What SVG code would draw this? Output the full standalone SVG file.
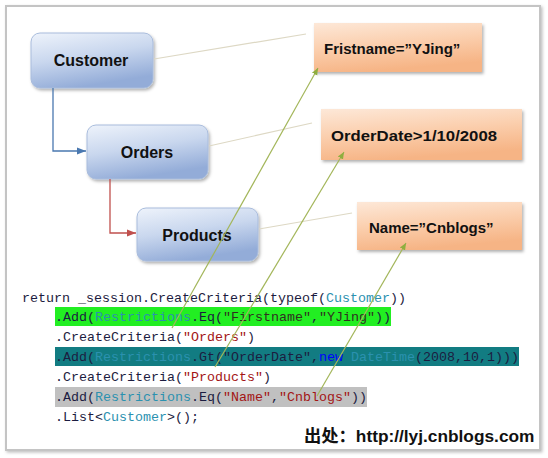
<svg xmlns="http://www.w3.org/2000/svg" width="548" height="458" viewBox="0 0 548 458">
<defs>
  <linearGradient id="gBlue" x1="0" y1="0" x2="0.35" y2="1">
    <stop offset="0" stop-color="#eef3fb"/>
    <stop offset="0.5" stop-color="#c9d7ee"/>
    <stop offset="1" stop-color="#93acd8"/>
  </linearGradient>
  <linearGradient id="gOrange" x1="0" y1="0" x2="0.3" y2="1">
    <stop offset="0" stop-color="#fde8d8"/>
    <stop offset="0.5" stop-color="#fbcfae"/>
    <stop offset="1" stop-color="#f6b485"/>
  </linearGradient>
  <filter id="sh" x="-10%" y="-10%" width="125%" height="135%">
    <feDropShadow dx="1.5" dy="2" stdDeviation="1.5" flood-color="#000" flood-opacity="0.3"/>
  </filter>
  <filter id="frameSh" x="-5%" y="-5%" width="110%" height="110%">
    <feDropShadow dx="1.5" dy="1.5" stdDeviation="1.5" flood-color="#000" flood-opacity="0.25"/>
  </filter>
  <marker id="arBlue" markerWidth="10" markerHeight="10" refX="9" refY="5" orient="auto" markerUnits="userSpaceOnUse">
    <path d="M0,1.5 L9,5 L0,8.5 Z" fill="#4a78b0"/>
  </marker>
  <marker id="arRed" markerWidth="10" markerHeight="10" refX="9" refY="5" orient="auto" markerUnits="userSpaceOnUse">
    <path d="M0,1.5 L9,5 L0,8.5 Z" fill="#c0504d"/>
  </marker>
  <marker id="arGreen" markerWidth="8" markerHeight="8" refX="7" refY="4" orient="auto" markerUnits="userSpaceOnUse">
    <path d="M0,1 L7,4 L0,7 Z" fill="#8fae3f"/>
  </marker>
</defs>
<style>
  .blue { fill: url(#gBlue); stroke: #a9bcdc; stroke-width: 1; filter: url(#sh); }
  .orange { fill: url(#gOrange); stroke: none; filter: url(#sh); }
  .lbl { font-family: "Liberation Sans", Arial, sans-serif; font-weight: bold; font-size: 15px; fill: #111; }
  .nlbl { font-size: 16px; }
  .code { font-family: "Liberation Mono", "Courier New", monospace; font-size: 13.33px; fill: #1c1c40; white-space: pre; }
  .ty { fill: #2b91af; }
  .st { fill: #a31515; }
  .dk { fill: #303020; }
  .kw { fill: #0000ff; }
  .faint { stroke: #ddd8c4; stroke-width: 1.2; fill: none; }
  .green { stroke: #a3b65a; stroke-width: 1.2; fill: none; marker-end: url(#arGreen); }
</style>
<rect x="0" y="0" width="548" height="458" fill="#ffffff"/>
<rect x="6" y="6" width="534" height="444" fill="#ffffff" stroke="#c4c4c4" stroke-width="2" filter="url(#frameSh)"/>

<g id="customer">
  <rect class="blue" x="31" y="33" width="122" height="55" rx="9"/>
  <text class="lbl nlbl" x="91" y="66" text-anchor="middle">Customer</text>
</g>
<g id="orders">
  <rect class="blue" x="87" y="125" width="121" height="54" rx="9"/>
  <text class="lbl nlbl" x="147" y="158" text-anchor="middle">Orders</text>
</g>
<g id="products">
  <rect class="blue" x="137" y="208" width="121" height="53" rx="9"/>
  <text class="lbl nlbl" x="197" y="241" text-anchor="middle">Products</text>
</g>
<g id="fristname">
  <rect class="orange" x="314" y="23" width="168" height="49"/>
  <text class="lbl" x="324" y="54">Fristname=”YJing”</text>
</g>
<g id="orderdate">
  <rect class="orange" x="321" y="109" width="201" height="51"/>
  <text class="lbl" x="331" y="141" textLength="166" lengthAdjust="spacingAndGlyphs">OrderDate&gt;1/10/2008</text>
</g>
<g id="name">
  <rect class="orange" x="357" y="202" width="165" height="48"/>
  <text class="lbl" x="369" y="233">Name=”Cnblogs”</text>
</g>

<g id="code">
  <rect x="55" y="307" width="336" height="19" fill="#22ee22"/>
  <rect x="55" y="347" width="464" height="19" fill="#127c82"/>
  <rect x="55" y="387" width="312" height="20" fill="#c0c0c0"/>
  <text class="code" x="22" y="302">return _session.CreateCriteria(typeof(<tspan class="ty">Customer</tspan>))</text>
  <text class="code" x="55" y="321">.Add(<tspan class="ty">Restrictions</tspan>.Eq(<tspan class="dk">"Firstname"</tspan>,<tspan class="dk">"YJing"</tspan>))</text>
  <text class="code" x="55" y="341">.CreateCriteria(<tspan class="st">"Orders"</tspan>)</text>
  <text class="code" x="55" y="361">.Add(<tspan class="ty">Restrictions</tspan>.Gt(<tspan>"OrderDate"</tspan>,<tspan class="kw">new</tspan> <tspan class="ty">DateTime</tspan>(2008,10,1)))</text>
  <text class="code" x="55" y="381">.CreateCriteria(<tspan class="st">"Products"</tspan>)</text>
  <text class="code" x="55" y="401">.Add(<tspan class="ty">Restrictions</tspan>.Eq(<tspan class="st">"Name"</tspan>,<tspan class="st">"Cnblogs"</tspan>))</text>
  <text class="code" x="55" y="421">.List&lt;<tspan class="ty">Customer</tspan>&gt;();</text>
</g>

<text x="304" y="442" font-family="'Liberation Sans', 'Noto Sans CJK SC', sans-serif" font-weight="bold" font-size="17.3" fill="#111">出处：http://lyj.cnblogs.com</text>

<g id="connectors">
  <path d="M53,88 V151 H86" stroke="#4a78b0" stroke-width="1.3" fill="none" marker-end="url(#arBlue)"/>
  <path d="M110,179 V233 H136" stroke="#c0504d" stroke-width="1.3" fill="none" marker-end="url(#arRed)"/>
  <line class="faint" x1="154" y1="59" x2="306" y2="34"/>
  <line class="faint" x1="209" y1="146" x2="312" y2="123"/>
  <line class="faint" x1="259" y1="229" x2="352" y2="213"/>
  <line class="green" x1="172" y1="328" x2="318" y2="68"/>
  <line class="green" x1="215" y1="367" x2="344" y2="152"/>
  <line class="green" x1="317" y1="396" x2="406" y2="243"/>
</g>
</svg>
